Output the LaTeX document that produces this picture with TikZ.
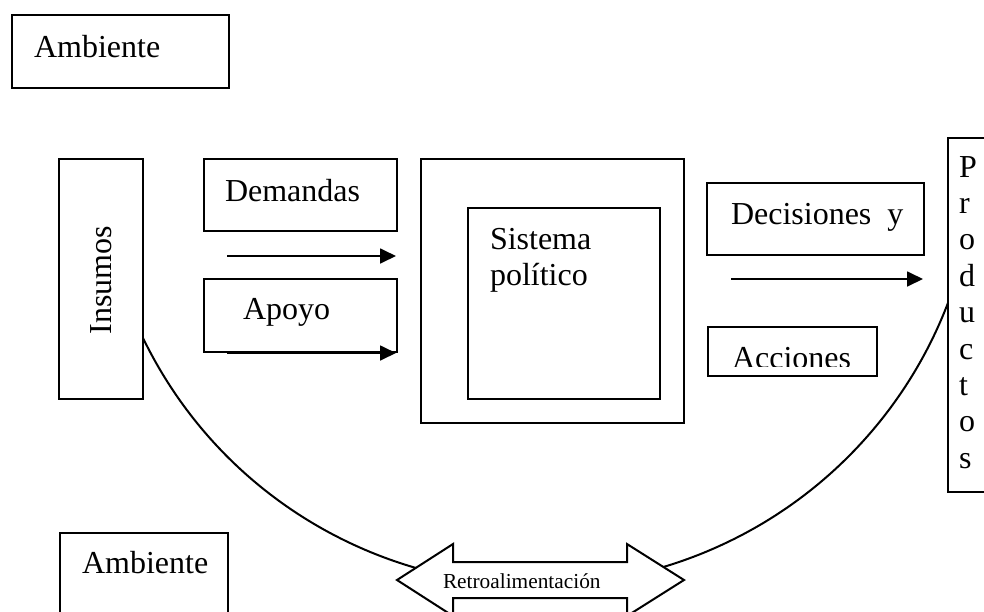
\documentclass[tikz,border=0pt]{standalone}
\usepackage{fontspec}
\setmainfont{Liberation Serif}
\usetikzlibrary{calc,arrows.meta}
\newcommand{\pxu}{0.375pt}

\begin{document}
\begin{tikzpicture}[x=0.375pt,y=-0.375pt,line width=0.75pt,
      caja/.style={draw,rectangle,anchor=north west,inner sep=0pt,outer sep=0pt},
      txt/.style={anchor=base west,inner sep=0pt,font=\fontsize{12}{13.65}\selectfont},
      flecha/.style={-{Triangle[length=6pt,width=5.6pt]}}]
    \useasboundingbox (0,0) rectangle (984,611);

    \node[caja,minimum width=217*\pxu,minimum height=73*\pxu](amb1) at (12,15){};
    \node[txt](amb1t) at (33,57){Ambiente};

    \node[caja,minimum width=84*\pxu,minimum height=240*\pxu](ins) at (59,159){};
    \node[font=\fontsize{12}{13.65}\selectfont,rotate=90,inner sep=0pt](inst) at (101,280){Insumos};

    \node[caja,minimum width=193*\pxu,minimum height=72*\pxu](dem) at (204,159){};
    \node[txt](demt) at (224,201){Demandas};
    \coordinate (f1a) at (227,256);
    \coordinate (f1b) at (396,256);
    \draw[flecha] (f1a) -- (f1b);

    \node[caja,minimum width=193*\pxu,minimum height=73*\pxu](apo) at (204,279){};
    \node[txt](apot) at (242,319){Apoyo};
    \coordinate (f2a) at (227,353);
    \coordinate (f2b) at (396,353);
    \draw[flecha] (f2a) -- (f2b);

    \node[caja,minimum width=263*\pxu,minimum height=264*\pxu](sisext) at (421,159){};
    \node[caja,minimum width=192*\pxu,minimum height=191*\pxu](sisint) at (468,208){};
    \node[txt](sist1) at (489,249){Sistema};
    \node[txt](sist2) at (489,285){político};

    \node[caja,minimum width=217*\pxu,minimum height=72*\pxu](dec) at (707,183){};
    \node[txt](dect) at (730,224){Decisiones\ \ y};
    \coordinate (f3a) at (731,279);
    \coordinate (f3b) at (923,279);
    \draw[flecha] (f3a) -- (f3b);

    \node[caja,minimum width=169*\pxu,minimum height=49*\pxu](acc) at (708,327){};
    \begin{scope}
      \clip (708,327) rectangle (877,366);
      \node[txt](acct) at (731,368){Acciones};
    \end{scope}

    \node[caja,minimum width=60*\pxu,minimum height=354*\pxu](prod) at (948,138){};
    \foreach \letra [count=\i from 0] in {P,r,o,d,u,c,t,o,s}
      \node[txt](prod\i) at (958,{177+36.4*\i}){\letra};

    \node[caja,minimum width=168*\pxu,minimum height=100*\pxu](amb2) at (60,533){};
    \node[txt](amb2t) at (81,573){Ambiente};

    % retroalimentacion
    \draw (ins.south east) ++(0,-61) arc[start angle=154.1,end angle=20.9,radius=439];
    \draw[fill=white] (397,580) -- (453,544) -- (453,562) -- (627,562) -- (627,544) -- (684,580)
      -- (627,616) -- (627,598) -- (453,598) -- (453,616) -- cycle;
    \node[txt,font=\fontsize{8}{9}\selectfont](retro) at (442,588){Retroalimentación};

\end{tikzpicture}
\end{document}
